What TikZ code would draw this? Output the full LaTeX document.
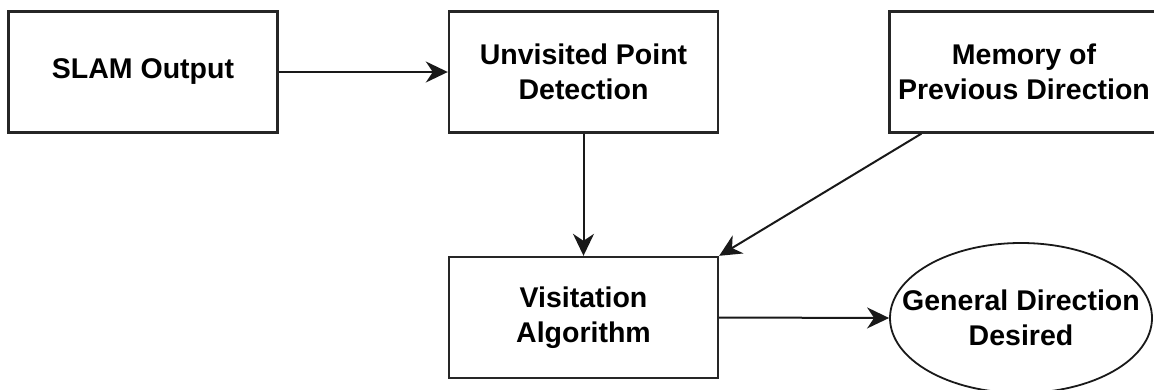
\documentclass[tikz,border=0pt]{standalone}
\usepackage{fontspec}
\setmainfont{Liberation Sans}
\usetikzlibrary{arrows.meta,shapes.geometric}

\begin{document}
\begin{tikzpicture}[x=1pt,y=-1pt,
  every node/.style={font=\fontsize{28.5}{35}\selectfont\bfseries, align=center, text=black},
  blockbox/.style={draw=black!85, line width=2.4pt, rectangle, minimum width=269pt, minimum height=121pt, inner sep=0pt},
  outcome/.style={draw=black!90, line width=1.8pt, ellipse, minimum width=262pt, minimum height=150pt, inner xsep=-27pt, inner ysep=0pt},
  flow/.style={line width=2pt, draw=black!90, -{Stealth[length=22pt,width=21pt,inset=7pt]}}]
  \useasboundingbox (0,0) rectangle (1154,389);
  \fill[white] (0,0) rectangle (1154,389);
  \clip (0,0) rectangle (1154,389);

  % processing blocks
  \node[blockbox] (slam) at (143,72) {SLAM Output};
  \node[blockbox] (unv)  at (583.5,72) {Unvisited Point\\Detection};
  \node[blockbox] (mem)  at (1024,72) {Memory of\\Previous Direction};
  \node[blockbox] (vis)  at (583.5,317.5) {Visitation\\Algorithm};
  \node[outcome]  (ell)  at (1021,318) {General Direction\\Desired};

  % data flow
  \draw[flow] (slam.east) -- (unv.west);
  \draw[flow] (unv.south) -- (vis.north);
  \draw[flow] (mem.211) -- (vis.north east);
  \draw[flow] (vis.east) -- (ell.west);
\end{tikzpicture}
\end{document}
